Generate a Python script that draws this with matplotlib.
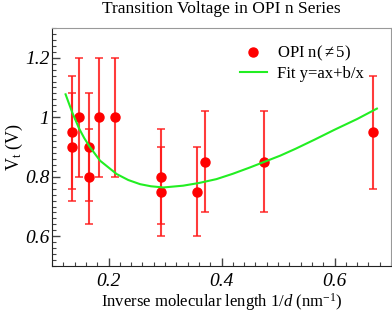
import matplotlib
matplotlib.use('Agg')
import matplotlib.pyplot as plt
from matplotlib.ticker import MultipleLocator
from matplotlib.lines import Line2D

# measured points (inverse length, transition voltage, error)
inv_len = [0.136, 0.136, 0.148, 0.165, 0.165, 0.184, 0.212, 0.293, 0.293, 0.357, 0.370, 0.476, 0.668]
vt = [0.95, 0.90, 1.00, 0.90, 0.80, 1.00, 1.00, 0.80, 0.75, 0.75, 0.85, 0.85, 0.95]
vt_err = [0.19, 0.18, 0.20, 0.18, 0.16, 0.20, 0.20, 0.16, 0.15, 0.15, 0.17, 0.17, 0.19]

# fit curve y=ax+b/x
fit_x = [0.124, 0.136, 0.148, 0.157, 0.167, 0.185, 0.2145, 0.235, 0.256, 0.275, 0.297, 0.332,
         0.36, 0.391, 0.42, 0.45, 0.504, 0.531, 0.565, 0.60, 0.64, 0.675]
fit_y = [1.077, 1.015, 0.962, 0.930, 0.900, 0.854, 0.809, 0.789, 0.775, 0.768, 0.764, 0.770,
         0.779, 0.792, 0.810, 0.831, 0.871, 0.894, 0.925, 0.958, 0.994, 1.029]

plt.rcParams['font.family'] = ['Liberation Serif', 'DejaVu Serif']
plt.rcParams['mathtext.fontset'] = 'custom'
plt.rcParams['mathtext.rm'] = 'Liberation Serif'
plt.rcParams['mathtext.it'] = 'Liberation Serif:italic'

fig = plt.figure(figsize=(3.92, 3.18), dpi=100)
ax = fig.add_axes([0.1327, 0.1635, 0.8648, 0.7485])

ax.errorbar(inv_len, vt, yerr=vt_err, fmt='none', ecolor='#ff1a1a', elinewidth=1.5,
            capsize=2.8, capthick=1.2, alpha=0.85, zorder=2)
ax.plot(inv_len, vt, 'o', color='#ff0000', markersize=6.5, zorder=3)
ax.plot(fit_x, fit_y, '-', color='#22ee22', linewidth=1.5, zorder=4)

ax.set_xlim(0.1, 0.7)
ax.set_ylim(0.5, 1.3)
ax.xaxis.set_minor_locator(MultipleLocator(0.02))
ax.yaxis.set_minor_locator(MultipleLocator(0.02))
ax.set_xticks([0.2, 0.4, 0.6])
ax.set_xticklabels(['0.2', '0.4', '0.6'], fontstyle='italic', fontsize=14)
ax.set_yticks([0.6, 0.8, 1.0, 1.2])
ax.set_yticklabels(['0.6', '0.8', '1', '1.2'], fontstyle='italic', fontsize=14)
ax.tick_params(which='both', direction='in', top=False, right=False, colors='#444444', labelcolor='black')
ax.tick_params(which='major', length=6, width=1)
ax.tick_params(which='minor', length=3, width=0.8)
ax.tick_params(axis='x', pad=5)
ax.tick_params(axis='y', pad=2)

for s in ['top', 'right']:
    ax.spines[s].set_color('#999999')
for s in ['left', 'bottom']:
    ax.spines[s].set_color('#222222')

ax.set_title('Transition Voltage in OPI n Series', fontsize=12.5, pad=11)
ax.set_xlabel('Inverse molecular length $\\mathit{1/d}$ (nm$^{-1}$)', fontsize=12, labelpad=1)
ax.set_ylabel('V$_{\\mathrm{t}}$ (V)', fontsize=13, labelpad=0)

handles = [Line2D([], [], marker='o', color='#ff0000', linestyle='none', markersize=6.5),
           Line2D([], [], color='#22ee22', linewidth=1.5)]
ax.legend(handles, ['OPI n($\\neq$5)', 'Fit y=ax+b/x'], loc='upper right', frameon=False,
          fontsize=12, bbox_to_anchor=(0.963, 0.995), handlelength=1.6, handletextpad=0.6,
          labelspacing=0.15)

fig.savefig('out.png', dpi=100)
